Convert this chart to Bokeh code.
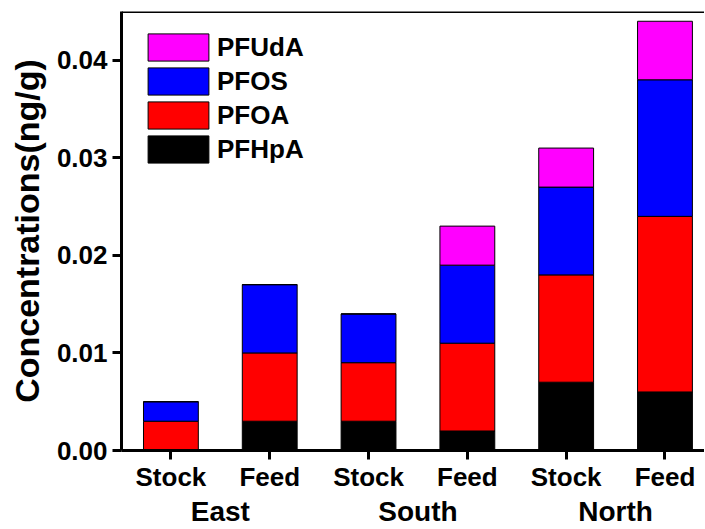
from bokeh.plotting import figure
from bokeh.models import (ColumnDataSource, Range1d, FixedTicker, LinearAxis,
                          Legend, LegendItem, Span)
from bokeh.embed import file_html
from bokeh.resources import INLINE

samples = ["Stock", "Feed", "Stock", "Feed", "Stock", "Feed"]
regions = ["East", "South", "North"]
species = ["PFHpA", "PFOA", "PFOS", "PFUdA"]
pfhpa = [0.0, 0.003, 0.003, 0.002, 0.007, 0.006]
pfoa = [0.003, 0.007, 0.006, 0.009, 0.011, 0.018]
pfos = [0.002, 0.007, 0.005, 0.008, 0.009, 0.014]
pfuda = [0.0, 0.0, 0.0, 0.004, 0.004, 0.006]
colors = ["#000000", "#FF0000", "#0000FF", "#FF00FF"]
y_ticks = [0.0, 0.01, 0.02, 0.03, 0.04]

xs = list(range(len(samples)))
src = ColumnDataSource(dict(x=xs, PFHpA=pfhpa, PFOA=pfoa, PFOS=pfos, PFUdA=pfuda))

FONT = "Liberation Sans"

p = figure(frame_width=583, frame_height=439,
           x_range=Range1d(-0.5, 5.4), y_range=Range1d(0, 0.045),
           output_backend="svg", toolbar_location=None,
           min_border_left=121, min_border_right=0, min_border_top=11,
           min_border_bottom=78)
p.outline_line_color = None
p.xgrid.visible = False
p.ygrid.visible = False
p.background_fill_color = "white"
p.border_fill_color = "white"

rs = p.vbar_stack(species, x="x", width=0.555, source=src, color=colors,
                  line_color="black", line_width=1)

# top frame line
p.add_layout(Span(location=0.045, dimension="width", line_color="black", line_width=3))

# axes
xa = p.xaxis[0]
xa.ticker = FixedTicker(ticks=xs)
xa.major_label_overrides = {i: s for i, s in zip(xs, samples)}
for ax in [xa, p.yaxis[0]]:
    ax.axis_line_width = 3
    ax.major_tick_line_width = 3
    ax.major_tick_out = 9
    ax.major_tick_in = 0
    ax.minor_tick_line_color = None
    ax.major_label_text_font = FONT
    ax.major_label_text_font_style = "bold"
    ax.major_label_text_font_size = "26px"
    ax.major_label_text_color = "black"
xa.major_label_standoff = 2

ya = p.yaxis[0]
ya.ticker = FixedTicker(ticks=y_ticks)
ya.major_label_overrides = {v: f"{v:.2f}" for v in y_ticks}
ya.major_label_standoff = 5
ya.axis_label = "Concentrations(ng/g)"
ya.axis_label_text_font = FONT
ya.axis_label_text_font_style = "bold"
ya.axis_label_text_font_size = "34px"
ya.axis_label_text_color = "black"
ya.axis_label_standoff = 8

ga = LinearAxis(ticker=FixedTicker(ticks=[0.5, 2.5, 4.5]),
                major_label_overrides={0.5: regions[0], 2.5: regions[1], 4.5: regions[2]},
                axis_line_color=None, major_tick_line_color=None,
                minor_tick_line_color=None, major_label_standoff=1,
                major_tick_out=0, major_tick_in=0,
                major_label_text_font=FONT, major_label_text_font_style="bold",
                major_label_text_font_size="28px", major_label_text_color="black")
p.add_layout(ga, "below")

items = [LegendItem(label=species[i], renderers=[rs[i]]) for i in reversed(range(4))]
leg = Legend(items=items, location=(19, 284), glyph_width=76, glyph_height=34,
             spacing=0, padding=0, margin=0, label_standoff=1,
             label_text_font=FONT, label_text_font_style="bold",
             label_text_font_size="26px", label_text_color="black",
             border_line_color=None, background_fill_alpha=0)
p.add_layout(leg)

open("out.html", "w").write(file_html(p, INLINE))
